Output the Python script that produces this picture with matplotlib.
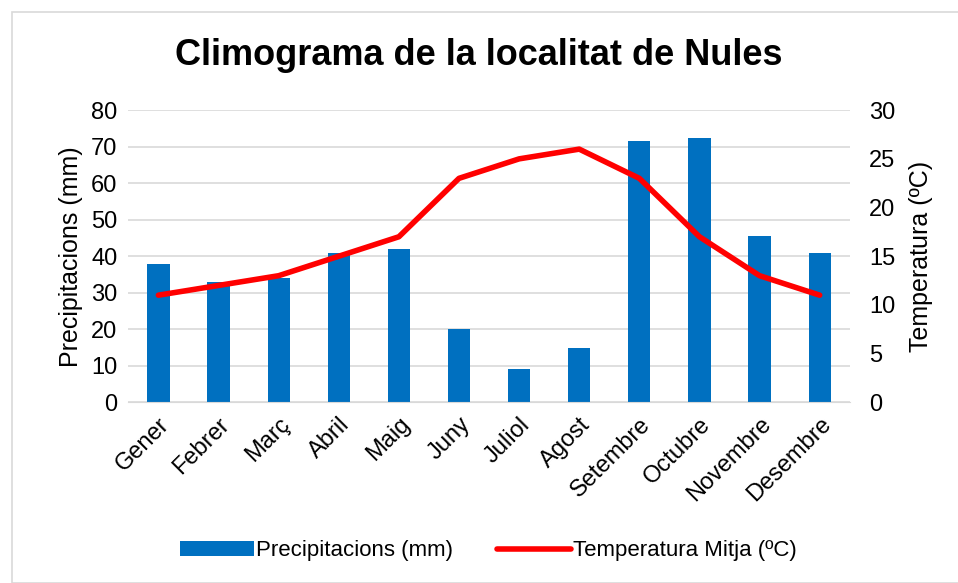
import matplotlib
matplotlib.use("Agg")
import matplotlib.pyplot as plt
import numpy as np

plt.rcParams['font.family'] = ['Liberation Sans', 'DejaVu Sans']

mesos = ['Gener', 'Febrer', 'Març', 'Abril', 'Maig', 'Juny', 'Juliol',
         'Agost', 'Setembre', 'Octubre', 'Novembre', 'Desembre']
precipitacions = [38, 33, 34, 41, 42, 20, 9, 15, 71.5, 72.5, 45.5, 41]
temperatura = [11, 12, 13, 15, 17, 23, 25, 26, 23, 17, 13, 11]

fig = plt.figure(figsize=(9.58, 5.83), dpi=100)
# marc gris del grafic
fig.patches.append(plt.Rectangle((12 / 958, 0), 1, 1 - 12 / 583, transform=fig.transFigure,
                                 fill=False, edgecolor='#d9d9d9', linewidth=1.2))
ax = fig.add_axes([0.134, 0.310, 0.753, 0.501])
x = np.arange(len(mesos))

ax.bar(x, precipitacions, width=0.37, color='#0070c0', label='Precipitacions (mm)', zorder=2)
ax.set_ylim(0, 80)
ax.set_yticks(range(0, 81, 10))
ax.set_xlim(-0.5, len(mesos) - 0.5)
ax.grid(axis='y', color='#d9d9d9', linewidth=1.2, zorder=0)
ax.set_axisbelow(True)
for s in ['top', 'right', 'left']:
    ax.spines[s].set_visible(False)
ax.spines['bottom'].set_color('#d9d9d9')
ax.tick_params(length=0, labelsize=17, pad=8)
ax.set_xticks(x)
ax.set_xticklabels(mesos, rotation=45, ha='right', rotation_mode='anchor')
ax.set_ylabel('Precipitacions (mm)', fontsize=18, labelpad=6)

ax2 = ax.twinx()
ax2.plot(x, temperatura, color='#ff0000', linewidth=4, label='Temperatura Mitja (ºC)',
         solid_capstyle='round', zorder=3)
ax2.set_ylim(0, 30)
ax2.set_yticks(range(0, 31, 5))
for s in ['top', 'right', 'left', 'bottom']:
    ax2.spines[s].set_visible(False)
ax2.tick_params(length=0, labelsize=17, pad=14)
ax2.set_ylabel('Temperatura (ºC)', fontsize=18, labelpad=10)

fig.suptitle('Climograma de la localitat de Nules', fontsize=26, fontweight='bold', y=0.935)

h1, l1 = ax.get_legend_handles_labels()
h2, l2 = ax2.get_legend_handles_labels()
fig.legend(h1 + h2, l1 + l2, loc='center', bbox_to_anchor=(0.51, 0.055), ncol=2,
           frameon=False, fontsize=16, handlelength=3.3, handletextpad=0.1, columnspacing=2.0)

fig.savefig('out.png', dpi=100)
